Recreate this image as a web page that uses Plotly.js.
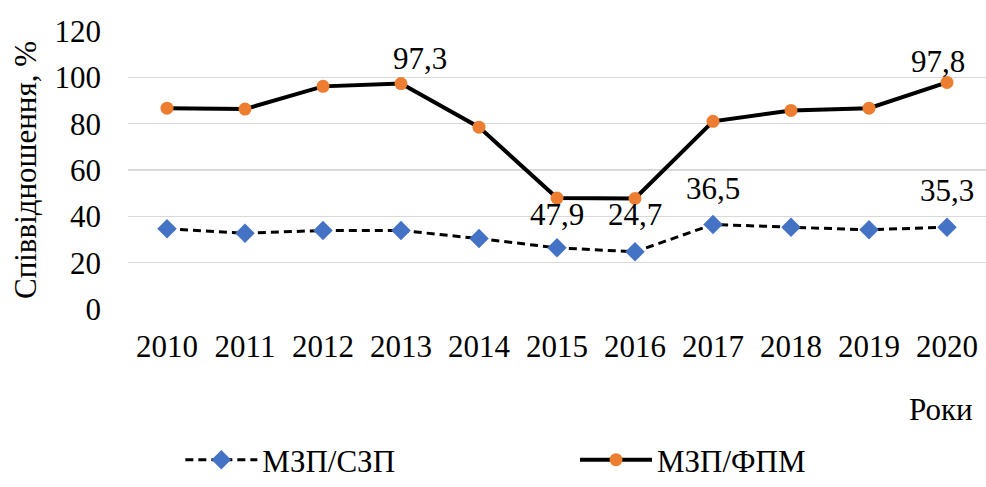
<!DOCTYPE html>
<html>
<head>
<meta charset="utf-8">
<script src="https://cdn.plot.ly/plotly-3.0.1.min.js"></script>
<style>html,body{margin:0;padding:0;background:#fff;}#chart{width:986px;height:487px;}</style>
</head>
<body>
<div id="chart"></div>
<script>
const years = ['2010','2011','2012','2013','2014','2015','2016','2017','2018','2019','2020'];
const seriesNames = ['МЗП/СЗП', 'МЗП/ФПМ'];
const mzpSzp = [34.6, 32.7, 33.9, 33.9, 30.4, 26.4, 24.7, 36.5, 35.3, 34.2, 35.3];
const mzpFpm = [86.7, 86.3, 96.1, 97.3, 78.5, 47.9, 47.7, 81.0, 85.7, 86.7, 97.8];
const yTicks = [0, 20, 40, 60, 80, 100, 120];
// indices of points that carry a data label, with label offsets (px)
const labelsSzp = [{i: 6, dx: 0, dy: 37}, {i: 7, dx: 0, dy: 36}, {i: 10, dx: 0, dy: 37}];
const labelsFpm = [{i: 3, dx: 19, dy: 25}, {i: 5, dx: 0, dy: -16}, {i: 10, dx: -9, dy: 21}];

const FONT = "'Liberation Serif', 'Times New Roman', serif";
const FS = 31;
const fmt = v => v.toFixed(1).replace('.', ',');

const traces = [
  {
    x: years, y: mzpSzp, name: seriesNames[0], type: 'scatter', mode: 'lines+markers',
    line: {color: '#000000', width: 3, dash: '8px,5px'},
    marker: {symbol: 'diamond', size: 15, color: '#4472C4'},
    legend: 'legend'
  },
  {
    x: years, y: mzpFpm, name: seriesNames[1], type: 'scatter', mode: 'lines+markers',
    line: {color: '#000000', width: 4},
    marker: {symbol: 'circle', size: 13, color: '#ED7D31'},
    legend: 'legend2'
  }
];

const annotations = [];
labelsSzp.forEach(l => annotations.push({x: l.i, y: mzpSzp[l.i], xref: 'x', yref: 'y', text: fmt(mzpSzp[l.i]), showarrow: false, xshift: l.dx, yshift: l.dy, font: {family: FONT, size: FS, color: '#000'}}));
labelsFpm.forEach(l => annotations.push({x: l.i, y: mzpFpm[l.i], xref: 'x', yref: 'y', text: fmt(mzpFpm[l.i]), showarrow: false, xshift: l.dx, yshift: l.dy, font: {family: FONT, size: FS, color: '#000'}}));
annotations.push({x: 0.987, y: -0.36, xref: 'paper', yref: 'paper', xanchor: 'right', yanchor: 'middle', text: 'Роки', showarrow: false, font: {family: FONT, size: FS, color: '#000'}});

const legendBase = {orientation: 'h', xanchor: 'left', y: -0.643, yanchor: 'bottom', font: {family: FONT, size: FS, color: '#000'}, itemwidth: 72, bgcolor: 'rgba(0,0,0,0)', borderwidth: 0};

const layout = {
  width: 986, height: 487,
  margin: {l: 128, r: 0, t: 31, b: 178},
  paper_bgcolor: '#fff', plot_bgcolor: '#fff',
  font: {family: FONT, size: FS, color: '#000'},
  showlegend: true,
  legend: Object.assign({}, legendBase, {x: 0.061}),
  legend2: Object.assign({}, legendBase, {x: 0.521}),
  xaxis: {
    type: 'category', range: [-0.5, 10.5], showgrid: false, zeroline: false, showline: false,
    ticks: '', ticklabelstandoff: 16, tickfont: {family: FONT, size: FS, color: '#000'}, fixedrange: true
  },
  yaxis: {
    range: [0, 120], tickvals: yTicks, showgrid: true, gridcolor: '#d9d9d9', gridwidth: 1.5,
    zeroline: false, showline: false, ticks: '', ticklabelstandoff: 26,
    tickfont: {family: FONT, size: FS, color: '#000'},
    title: {text: 'Співвідношення, %', font: {family: FONT, size: FS, color: '#000'}, standoff: 8}
  },
  annotations: annotations
};

Plotly.newPlot('chart', traces, layout, {displayModeBar: false, staticPlot: true});
</script>
</body>
</html>
